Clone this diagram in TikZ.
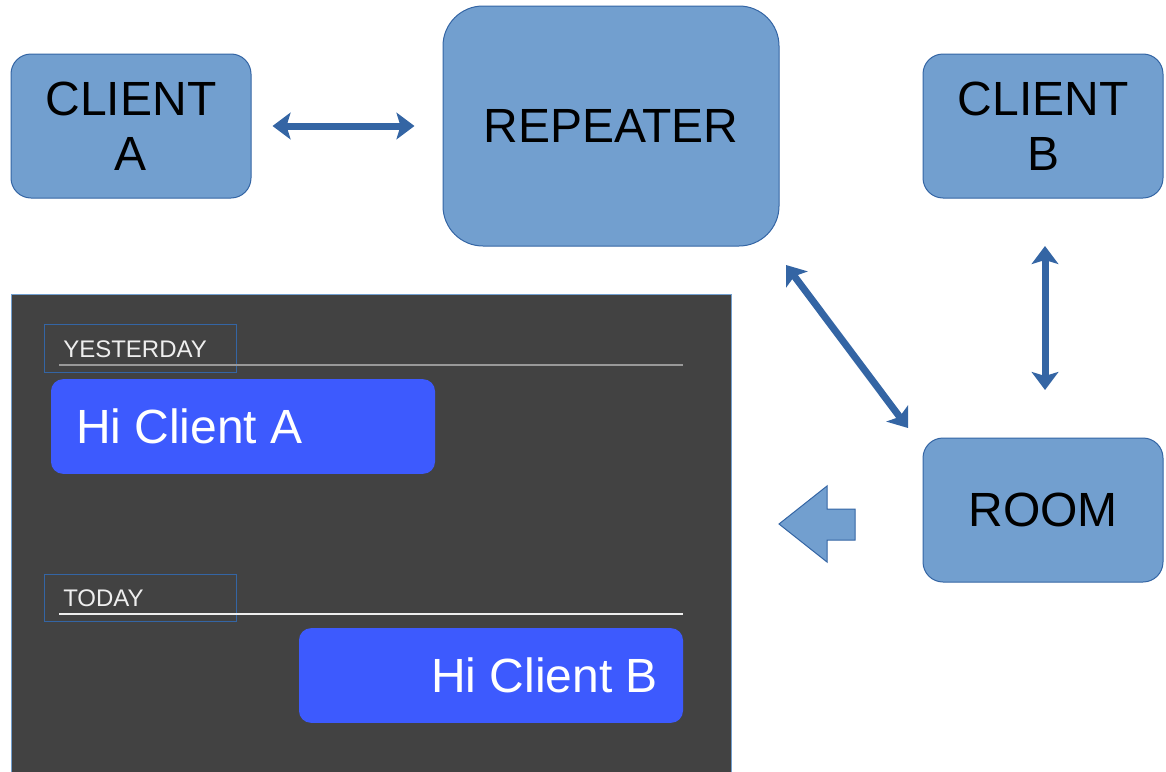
\documentclass[tikz,border=0pt]{standalone}
\usepackage{fontspec}
\setmainfont{Liberation Sans}
\usetikzlibrary{arrows.meta}
\definecolor{boxfill}{HTML}{729FCF}
\definecolor{boxline}{HTML}{3465A4}
\definecolor{panelfill}{HTML}{424242}
\definecolor{bubble}{HTML}{3D5AFE}
\definecolor{paneltext}{HTML}{EEEEEE}
\tikzset{
  block/.style={draw=boxline, line width=0.75pt, fill=boxfill, rounded corners=15pt,
    minimum width=180pt, minimum height=108pt, align=center, inner sep=0pt,
    font=\fontsize{36}{41}\selectfont},
  link/.style={draw=boxline, line width=5.25pt,
    {Stealth[length=13.5pt,width=20pt,inset=3pt]}-{Stealth[length=13.5pt,width=20pt,inset=3pt]}},
  daybox/.style={draw=boxline, line width=0.75pt, minimum width=144pt, minimum height=35.5pt, inner sep=0pt},
  daytext/.style={text=paneltext, anchor=base west, inner sep=0pt, font=\fontsize{18}{21}\selectfont},
  msg/.style={fill=bubble, rounded corners=9pt, minimum width=288pt, minimum height=71pt, inner sep=0pt},
  msgtext/.style={text=white, inner sep=0pt, font=\fontsize{36}{41}\selectfont}
}
\begin{document}
\begin{tikzpicture}[x=0.75pt, y=-0.75pt]
\useasboundingbox (0,0) rectangle (1166,771);

% server side blocks
\node[block] (ca) at (131,126) {CLIENT\\A};
\node[block, rounded corners=30pt, minimum width=252pt, minimum height=180pt] (rep) at (611,126) {REPEATER};
\node[block] (cb) at (1043,126) {CLIENT\\B};
\node[block] (room) at (1043,510) {ROOM};

% links between them
\draw[link, shorten <=15.75pt, shorten >=21pt] (ca.east) -- (rep.west);
\coordinate (d1) at (786,265);
\coordinate (d2) at (908,428);
\draw[link] (d1) -- (d2);
\coordinate (v1) at (1045,246);
\coordinate (v2) at (1045,390);
\draw[link] (v1) -- (v2);

% block arrow pointing to the chat view
\draw[draw=boxline, line width=0.75pt, fill=boxfill]
  (779,524) -- (827,486) -- (827,509) -- (855,509) -- (855,540) -- (827,540) -- (827,562) -- cycle;

% chat panel
\draw[draw=boxfill, line width=0.75pt, fill=panelfill] (11,294) rectangle (731,775);

\node[daybox] (yb) at (140,348.5) {};
\draw[draw=gray!80, line width=1.2pt] (59,365) -- (683,365);
\node[daytext] (yt) at (63,357) {YESTERDAY};

\node[msg] (ma) at (243,426.5) {};
\node[msgtext, anchor=west] (mat) at ([xshift=18.75pt]ma.west) {Hi Client A};

\node[daybox] (tb) at (140,598) {};
\draw[draw=paneltext, line width=1pt] (59,614) -- (683,614);
\node[daytext] (tt) at (63,606) {TODAY};

\node[msg] (mb) at (491,675.5) {};
\node[msgtext, anchor=east] (mbt) at ([xshift=-18.75pt]mb.east) {Hi Client B};
\end{tikzpicture}
\end{document}
